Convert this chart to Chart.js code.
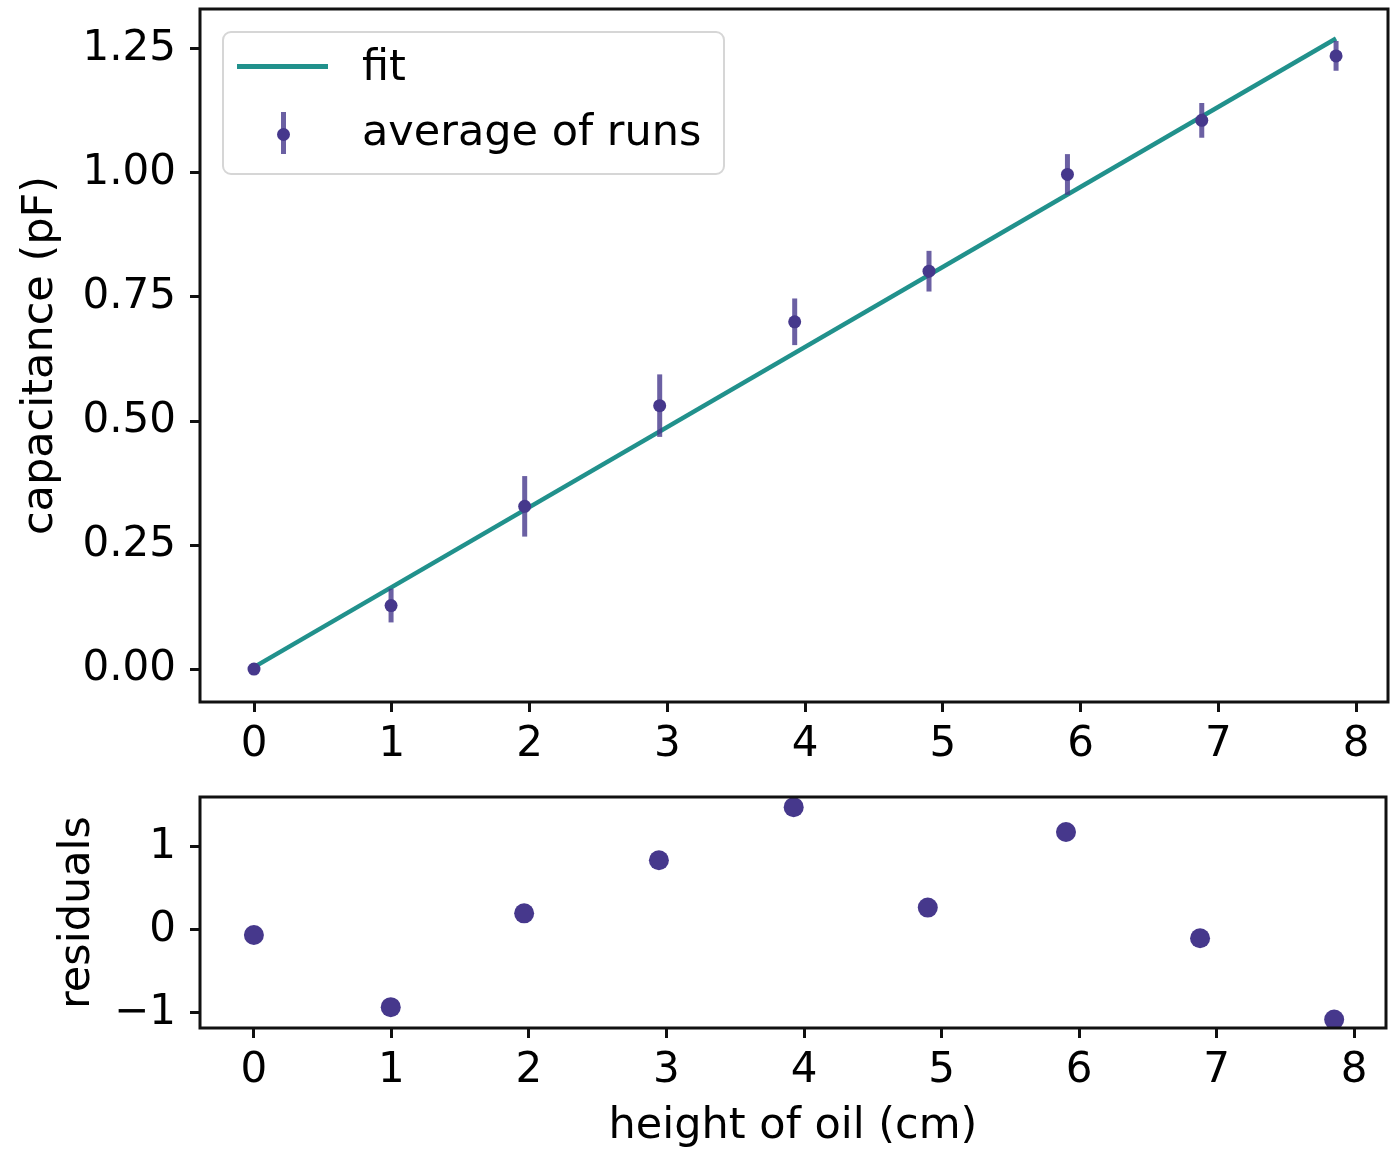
<!DOCTYPE html>
<html>
<head>
<meta charset="utf-8">
<script src="https://cdn.jsdelivr.net/npm/chart.js@4.4.1/dist/chart.umd.min.js"></script>
<style>
  html, body { margin:0; padding:0; background:#fff; width:1396px; height:1153px; overflow:hidden; font-family:"DejaVu Sans", sans-serif; }
  #c1 { position:absolute; left:0; top:0; width:1396px; height:770px; }
  #c2 { position:absolute; left:0; top:770px; width:1396px; height:383px; }
  #legend { position:absolute; left:222px; top:31px; width:503px; height:144px; box-sizing:border-box;
            border:2px solid #d6d6d6; border-radius:9px; background:rgba(255,255,255,0.8); }
  #legend .swline { position:absolute; left:13px; top:31px; width:91px; height:5px; background:#21918c; }
  #legend .swbar { position:absolute; left:56.5px; top:79px; width:5px; height:42px; background:rgba(70,56,140,0.8); }
  #legend .swdot { position:absolute; left:52.5px; top:94.5px; width:13px; height:13px; border-radius:50%; background:#46388c; }
  #legend .lt { position:absolute; left:138px; font-family:"DejaVu Sans"; font-size:43px; line-height:43px; color:#000; white-space:nowrap; }
</style>
</head>
<body>
<canvas id="c1" width="1396" height="770"></canvas>
<canvas id="c2" width="1396" height="383"></canvas>
<div id="legend">
  <div class="swline"></div>
  <span class="lt" style="top:10.6px">fit</span>
  <div class="swbar"></div>
  <div class="swdot"></div>
  <span class="lt" style="top:75.6px">average of runs</span>
</div>
<script>
// ---- data ----
const heights      = [0, 0.995, 1.965, 2.945, 3.925, 4.90, 5.905, 6.88, 7.855];
const capacitance  = [0.000, 0.128, 0.328, 0.531, 0.700, 0.802, 0.997, 1.106, 1.236];
const capError     = [0.003, 0.034, 0.061, 0.063, 0.047, 0.041, 0.041, 0.035, 0.030];
const fitX         = [0, 7.855];
const fitY         = [0.004, 1.271];
const residuals    = [-0.06, -0.93, 0.20, 0.84, 1.48, 0.27, 1.18, -0.10, -1.08];
const xTicks       = [0, 1, 2, 3, 4, 5, 6, 7, 8];
const capTicks     = [0, 0.25, 0.5, 0.75, 1.0, 1.25];
const resTicks     = [-1, 0, 1];
const xLimits      = [-0.392, 8.232];
const capLimits    = [-0.0664, 1.3305];
const resLimits    = [-1.181, 1.602];

// ---- style ----
const FONT = 'DejaVu Sans';
const TEAL = '#21918c';
const PURPLE = '#46388c';
const PURPLE_BAR = 'rgba(70,56,140,0.8)';
Chart.defaults.font.family = FONT;
Chart.defaults.color = '#000';

const framePlugin = {
  id: 'frame',
  afterDatasetsDraw(chart) {
    const {ctx, chartArea: a} = chart;
    ctx.save();
    ctx.strokeStyle = '#111';
    ctx.lineWidth = 3;
    ctx.strokeRect(a.left, a.top, a.right - a.left, a.bottom - a.top);
    ctx.restore();
  }
};

const errorBarPlugin = {
  id: 'errorBars',
  beforeDatasetDraw(chart, args) {
    const ds = chart.data.datasets[args.index];
    if (!ds.yErr) return;
    const xs = chart.scales.x, ys = chart.scales.y;
    const ctx = chart.ctx;
    ctx.save();
    ctx.strokeStyle = PURPLE_BAR;
    ctx.lineWidth = 5;
    ds.data.forEach((p, i) => {
      const px = xs.getPixelForValue(p.x);
      const y1 = ys.getPixelForValue(p.y - ds.yErr[i]);
      const y2 = ys.getPixelForValue(p.y + ds.yErr[i]);
      ctx.beginPath();
      ctx.moveTo(px, y1);
      ctx.lineTo(px, y2);
      ctx.stroke();
    });
    ctx.restore();
  }
};

function tickSet(arr) { return scale => { scale.ticks = arr.map(v => ({value: v})); }; }
function fixWidth(w) { return scale => { scale.width = w; scale.paddingTop = 0; scale.paddingBottom = 0; }; }
function fixHeight(h) { return scale => { scale.height = h; scale.paddingLeft = 0; scale.paddingRight = 0; }; }

const gridOpts = { drawOnChartArea: false, drawTicks: true, tickLength: 10, tickWidth: 3, lineWidth: 3, tickColor: '#111' };

function xScale(h, title) {
  return {
    type: 'linear', min: xLimits[0], max: xLimits[1], bounds: 'data',
    afterBuildTicks: tickSet(xTicks),
    afterFit: fixHeight(h),
    grid: gridOpts,
    border: { display: false },
    ticks: { font: { size: 42 }, color: '#000', padding: 8, maxRotation: 0, autoSkip: false, callback: v => String(v) },
    title: title ? { display: true, text: title, font: { size: 43 }, color: '#000', padding: { top: 0, bottom: 0.5 } } : { display: false }
  };
}

// ---- top chart ----
new Chart(document.getElementById('c1'), {
  type: 'scatter',
  data: {
    datasets: [
      {
        label: 'fit',
        data: fitX.map((x, i) => ({x, y: fitY[i]})),
        showLine: true, borderColor: TEAL, borderWidth: 4.5, pointRadius: 0, fill: false, order: 2
      },
      {
        label: 'average of runs',
        data: heights.map((x, i) => ({x, y: capacitance[i]})),
        yErr: capError,
        pointRadius: 6.5, pointBackgroundColor: PURPLE, pointBorderWidth: 0, showLine: false, order: 1
      }
    ]
  },
  options: {
    responsive: false, animation: false, devicePixelRatio: 1,
    layout: { padding: { top: 9, right: 8, bottom: 0, left: 0 } },
    plugins: { legend: { display: false }, tooltip: { enabled: false } },
    scales: {
      x: xScale(68, null),
      y: {
        type: 'linear', min: capLimits[0], max: capLimits[1], bounds: 'data',
        afterBuildTicks: tickSet(capTicks),
        afterFit: fixWidth(200),
        grid: gridOpts,
        border: { display: false },
        ticks: { font: { size: 42 }, color: '#000', padding: 14, autoSkip: false, callback: v => Number(v).toFixed(2) },
        title: { display: true, text: 'capacitance (pF)', font: { size: 43 }, color: '#000', padding: { top: 14.7, bottom: 0 } }
      }
    }
  },
  plugins: [errorBarPlugin, framePlugin]
});

// ---- bottom chart ----
new Chart(document.getElementById('c2'), {
  type: 'scatter',
  data: {
    datasets: [
      {
        label: 'residuals',
        data: heights.map((x, i) => ({x, y: residuals[i]})),
        pointRadius: 10, pointBackgroundColor: PURPLE, pointBorderWidth: 0, showLine: false
      }
    ]
  },
  options: {
    responsive: false, animation: false, devicePixelRatio: 1,
    layout: { padding: { top: 27, right: 8, bottom: 0, left: 0 } },
    plugins: { legend: { display: false }, tooltip: { enabled: false } },
    scales: {
      x: xScale(125, 'height of oil (cm)'),
      y: {
        type: 'linear', min: resLimits[0], max: resLimits[1], bounds: 'data',
        afterBuildTicks: tickSet(resTicks),
        afterFit: fixWidth(200),
        grid: gridOpts,
        border: { display: false },
        ticks: { font: { size: 42 }, color: '#000', padding: 14, autoSkip: false, callback: v => (v < 0 ? '\u2212' + Math.abs(v) : String(v)) },
        title: { display: true, text: 'residuals', font: { size: 43 }, color: '#000', padding: { top: 52.2, bottom: 0 } }
      }
    }
  },
  plugins: [framePlugin]
});
</script>
</body>
</html>
